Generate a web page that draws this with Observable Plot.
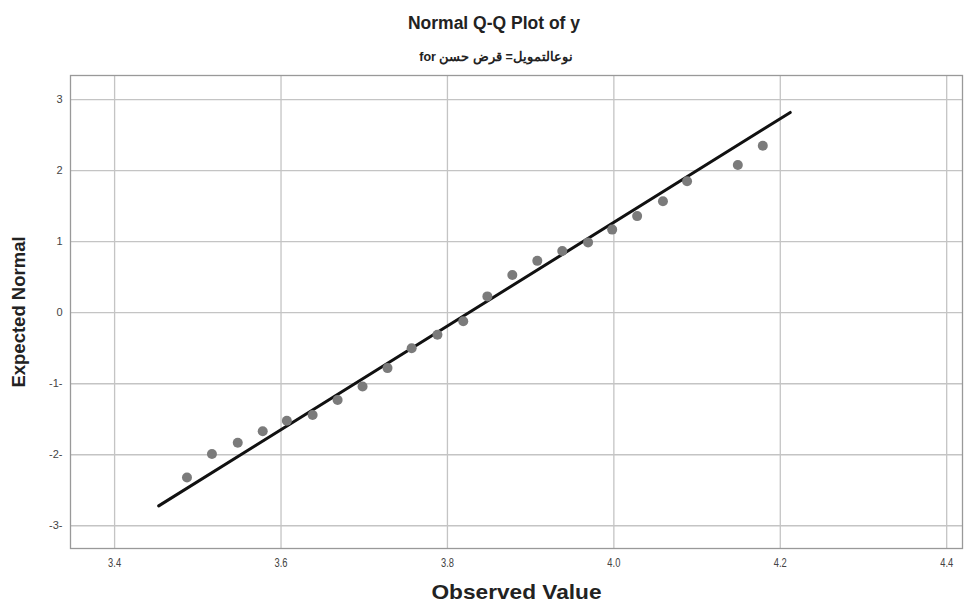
<!DOCTYPE html>
<html><head><meta charset="utf-8">
<script src="https://cdn.jsdelivr.net/npm/d3@7"></script>
<script src="https://cdn.jsdelivr.net/npm/@observablehq/plot@0.6"></script>
<style>
body{margin:0;background:#fff;width:974px;height:610px;overflow:hidden;font-family:"Liberation Sans",Arial,sans-serif}
#head{position:relative;height:70px;width:974px}
#title{position:absolute;left:0;top:13px;width:988px;text-align:center;font-weight:bold;font-size:17.5px;color:#222}
#sub{position:absolute;left:0;top:49px;width:992px;text-align:center;font-weight:bold;font-size:12.5px;color:#222}
</style></head>
<body>
<div id="head"><div id="title"></div><div id="sub"></div></div>
<div id="chart"></div>
<script>
const titleText = "Normal Q-Q Plot of y";
const subtitleText = "for نوعالتمويل= قرض حسن";
const xLabel = "Observed Value";
const yLabel = "Expected Normal";
const observed = [3.487,3.517,3.548,3.578,3.607,3.638,3.668,3.698,3.728,3.757,3.788,3.819,3.848,3.878,3.908,3.938,3.969,3.998,4.028,4.059,4.088,4.149,4.179];
const expected = [-2.32,-1.99,-1.83,-1.67,-1.52,-1.44,-1.23,-1.04,-0.78,-0.50,-0.31,-0.12,0.23,0.53,0.73,0.87,0.99,1.17,1.36,1.57,1.85,2.08,2.35];
const refLineX = [3.453, 4.212];
const refLineY = [-2.72, 2.82];
const xTicks = [3.4, 3.6, 3.8, 4.0, 4.2, 4.4];
const xTickLabels = ["3.4","3.6","3.8","4.0","4.2","4.4"];
const yTicks = [3, 2, 1, 0, -1, -2, -3];
const yTickLabels = ["3","2","1","0","-1-","-2-","-3-"];

document.getElementById("title").textContent = titleText;
document.getElementById("sub").textContent = subtitleText;

const pts = observed.map((x, i) => ({x, y: expected[i]}));
const ref = refLineX.map((x, i) => ({x, y: refLineY[i]}));
const sans = "'Liberation Sans',Arial,sans-serif";

const chart = Plot.plot({
  width: 974,
  height: 540,
  marginTop: 5,
  marginBottom: 62,
  marginLeft: 70,
  marginRight: 12,
  style: {background: "#fff", fontFamily: sans, fontSize: "11px", color: "#444"},
  x: {domain: [3.347, 4.419]},
  y: {domain: [-3.32, 3.34]},
  marks: [
    Plot.gridX(xTicks, {stroke: "#c4c4c4", strokeOpacity: 1, strokeWidth: 1.3}),
    Plot.gridY(yTicks, {stroke: "#c4c4c4", strokeOpacity: 1, strokeWidth: 1.3}),
    Plot.frame({stroke: "#999", strokeWidth: 1.3}),
    Plot.axisX(xTicks, {tickSize: 0, tickPadding: 10, label: null, fontSize: 12.5, className: "xtick", tickFormat: (d) => xTickLabels[xTicks.indexOf(d)]}),
    Plot.axisY(yTicks, {tickSize: 0, tickPadding: 8, label: null, tickFormat: (d) => yTickLabels[yTicks.indexOf(d)]}),
    Plot.line(ref, {x: "x", y: "y", stroke: "#111", strokeWidth: 3}),
    Plot.dot(pts, {x: "x", y: "y", r: 5, fill: "#7b7b7b", stroke: "none"}),
    Plot.text([xLabel], {frameAnchor: "bottom", dy: 50, text: d => d, fontSize: 21, fontWeight: "bold", fill: "#222", className: "xlab"}),
    Plot.text([yLabel], {frameAnchor: "left", textAnchor: "middle", dx: -51, rotate: -90, text: d => d, fontSize: 18.5, fontWeight: "bold", fill: "#222"})
  ]
});
d3.select(chart).selectAll(".xlab text").attr("textLength", 170).attr("lengthAdjust", "spacingAndGlyphs");
d3.select(chart).selectAll(".xtick text").attr("textLength", 13).attr("lengthAdjust", "spacingAndGlyphs");
document.getElementById("chart").appendChild(chart);
</script>
</body></html>
